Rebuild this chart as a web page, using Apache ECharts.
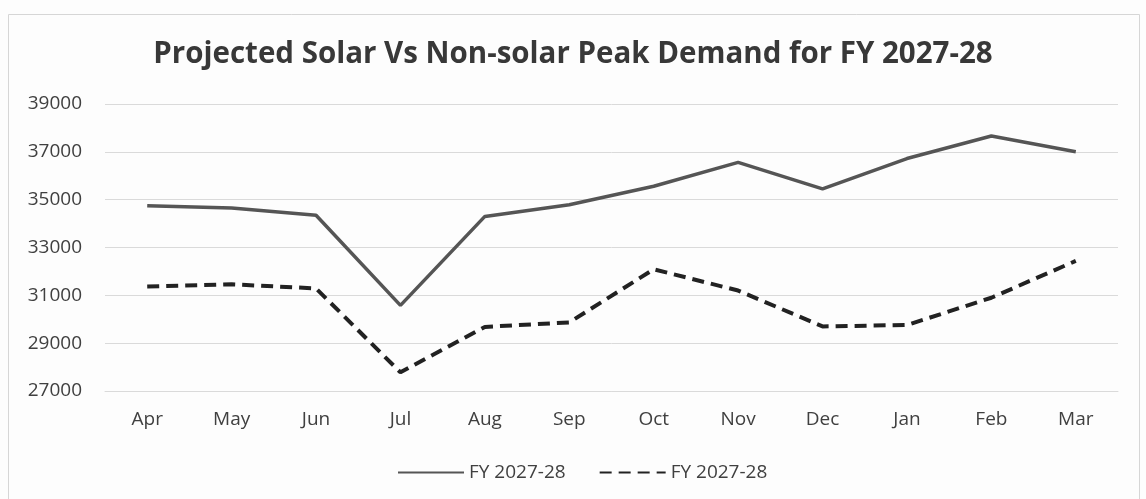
<!DOCTYPE html>
<html>
<head>
<meta charset="utf-8">
<script src="https://cdn.jsdelivr.net/npm/echarts@6/dist/echarts.min.js"></script>
<style>
html,body{margin:0;padding:0;background:#fdfdfd;}
#c{width:1146px;height:499px;}
</style>
</head>
<body>
<div id="c"></div>
<script>
const categories = ['Apr','May','Jun','Jul','Aug','Sep','Oct','Nov','Dec','Jan','Feb','Mar'];
const solarPeak = [34750, 34650, 34350, 30580, 34300, 34790, 35560, 36560, 35450, 36720, 37660, 37000];
const nonSolarPeak = [31370, 31460, 31290, 27780, 29680, 29870, 32090, 31200, 29700, 29760, 30900, 32440];
const seriesNames = ['FY 2027-28', 'FY 2027-28 '];
const titleText = 'Projected Solar Vs Non-solar Peak Demand for FY 2027-28';

const chart = echarts.init(document.getElementById('c'));
const FONT = '"Open Sans", "DejaVu Sans", sans-serif';
chart.setOption({
  backgroundColor: '#fdfdfd',
  animation: false,
  title: {
    text: titleText,
    left: 'center',
    top: 35,
    textStyle: {fontFamily: FONT, fontSize: 29.5, fontWeight: 'bold', color: '#383838'}
  },
  graphic: [{
    type: 'rect',
    shape: {x: 8.5, y: 14.5, width: 1131, height: 520},
    style: {fill: 'none', stroke: '#d6d6d6', lineWidth: 1},
    silent: true
  }],
  legend: {
    left: 392,
    top: 458,
    itemWidth: 66,
    itemHeight: 20,
    itemGap: 33,
    itemStyle: {opacity: 0},
    data: [
      {name: seriesNames[0]},
      {name: seriesNames[1]}
    ],
    formatter: function (n) { return n.trim(); },
    textStyle: {fontFamily: FONT, fontSize: 19, color: '#404040'}
  },
  grid: {left: 105, right: 28, top: 104, bottom: 108},
  xAxis: {
    type: 'category',
    data: categories,
    boundaryGap: true,
    axisLine: {show: true, lineStyle: {color: '#dadada'}},
    axisTick: {show: false},
    axisLabel: {margin: 19, fontFamily: FONT, fontSize: 19, color: '#404040'}
  },
  yAxis: {
    type: 'value',
    min: 27000,
    max: 39000,
    interval: 2000,
    axisLine: {show: false},
    axisTick: {show: false},
    splitLine: {lineStyle: {color: '#dadada', width: 1}},
    axisLabel: {margin: 23, fontFamily: FONT, fontSize: 19, color: '#404040',
      formatter: function (v) { return String(v); }}
  },
  series: [
    {
      name: seriesNames[0],
      type: 'line',
      data: solarPeak,
      symbol: 'none',
      lineStyle: {color: '#555555', width: 3.5, type: 'solid'},
      itemStyle: {color: '#555555'}
    },
    {
      name: seriesNames[1],
      type: 'line',
      data: nonSolarPeak,
      symbol: 'none',
      lineStyle: {color: '#222222', width: 4, type: [12, 7]},
      itemStyle: {color: '#222222'}
    }
  ]
});
</script>
</body>
</html>
